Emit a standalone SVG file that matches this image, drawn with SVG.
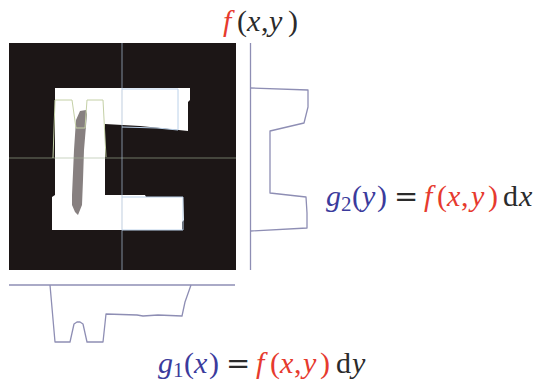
<svg xmlns="http://www.w3.org/2000/svg" width="538" height="383" viewBox="0 0 538 383">
<style>
.m{font-family:"Liberation Serif",serif;font-size:30px}
.i{font-style:italic}
.b{fill:#3b3b9c}
.r{fill:#e63a2e}
.k{fill:#2b2b2b}
.s{font-size:21px}
.eq{font-family:"DejaVu Sans",sans-serif;font-size:29px;fill:#2b2b2b}
.prof{fill:none;stroke:#8e8eb4;stroke-width:1.3;stroke-linejoin:round}
</style>
<rect width="538" height="383" fill="#ffffff"/>
<g id="image">
<rect x="9" y="43" width="227" height="227" fill="#1c1616"/>
<path d="M55,88 L190,88 L190,100 L188,102 L188,131 L160,128 L140,126 L105,124 L105,195 L145,195 L146,197 L183,197 L184,220 L182,222 L182,230 L52,230 L52,197 L55,195 Z" fill="#ffffff"/>
<path d="M80,111 L86,110 L87,114 L84,150 L83,180 L82,205 L78,215 L75,212 L72,205 L72,195 L74,150 L76,120 Z" fill="#878080"/>
<line x1="9" y1="158" x2="236" y2="158" stroke="#a9b79a" stroke-opacity="0.6" stroke-width="1.2"/>
<line x1="122" y1="43" x2="122" y2="270" stroke="#a8bdd4" stroke-opacity="0.6" stroke-width="1.2"/>
<path d="M53,158 L55,100 L72,100 L76,128 L85,128 L87,100 L103,100 L106,157" fill="none" stroke="#c4d0a6" stroke-width="1"/>
<path d="M122,89 L178,89 L178,130 L157,128 L122,127 M122,197 L183,197 L183,230 L122,230" fill="none" stroke="#bcd2ea" stroke-width="1"/>
</g>
<g id="g2-profile">
<line x1="250.5" y1="43" x2="250.5" y2="270" class="prof"/>
<path d="M250.5,88 L308,90 L308,107 L304,123 L270,131 L270,193 L306,197 L307,213 L307,228 L250.5,231" class="prof"/>
</g>
<g id="g1-profile">
<line x1="9" y1="285" x2="235" y2="285" class="prof"/>
<path d="M50,285 L55,342 L70,342 L74,324 L77,322 L80,322 L83,324 L87,342 L103,342 L106,314 L137,315 L143,316 L158,315 L182,316 L185,302 L191,285" class="prof"/>
</g>
<g id="label-f" class="m">
<text y="31"><tspan x="223" class="i r">f</tspan><tspan x="237" class="k">(</tspan><tspan x="247" class="i k">x</tspan><tspan x="261" class="k">,</tspan><tspan x="269" class="i k">y</tspan><tspan x="288" class="k">)</tspan></text>
</g>
<g id="label-g2" class="m">
<text y="206"><tspan x="326" class="i b">g</tspan><tspan x="341" y="211" class="b s">2</tspan><tspan x="352" y="206" class="b">(</tspan><tspan x="362" class="i b">y</tspan><tspan x="377" class="b">)</tspan></text>
<text x="394" y="206" class="eq">=</text>
<text y="206"><tspan x="424" class="i r">f</tspan><tspan x="437" class="r">(</tspan><tspan x="447" class="i r">x</tspan><tspan x="461" class="r">,</tspan><tspan x="471" class="i r">y</tspan><tspan x="488" class="r">)</tspan><tspan x="503" class="k">d</tspan><tspan x="519" class="i k">x</tspan></text>
</g>
<g id="label-g1" class="m">
<text y="373"><tspan x="158" class="i b">g</tspan><tspan x="173" y="377" class="b s">1</tspan><tspan x="184" y="373" class="b">(</tspan><tspan x="194" class="i b">x</tspan><tspan x="209" class="b">)</tspan></text>
<text x="226" y="373" class="eq">=</text>
<text y="373"><tspan x="256" class="i r">f</tspan><tspan x="270" class="r">(</tspan><tspan x="280" class="i r">x</tspan><tspan x="294" class="r">,</tspan><tspan x="303" class="i r">y</tspan><tspan x="320" class="r">)</tspan><tspan x="336" class="k">d</tspan><tspan x="352" class="i k">y</tspan></text>
</g>
</svg>
